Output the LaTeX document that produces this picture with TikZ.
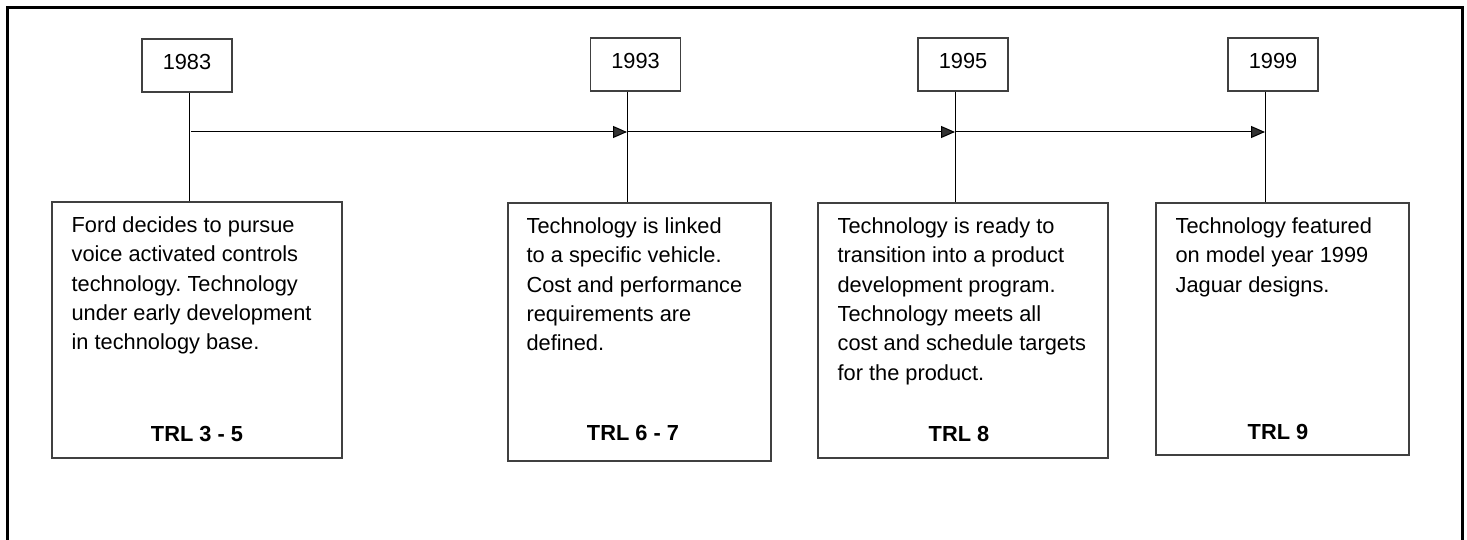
\documentclass[tikz,border=0pt]{standalone}
\usepackage{fontspec}
\setmainfont{Liberation Sans}
\usetikzlibrary{arrows.meta,positioning}
\frenchspacing

\tikzset{
  yearbox/.style={draw=black!75, line width=1.2pt, minimum width=90pt,
    minimum height=53pt, text depth=7pt, inner sep=0pt,
    font=\fontsize{21.8}{24}\selectfont},
  descbox/.style={draw=black!75, line width=1.2pt, inner sep=0pt},
  desctext/.style={anchor=north west, align=left, inner sep=0pt,
    font=\fontsize{21.8}{29.4}\selectfont},
  trllabel/.style={anchor=base, inner sep=0pt,
    font=\fontsize{21.8}{24}\selectfont\bfseries},
  stem/.style={line width=1pt},
  timeline/.style={line width=1pt,
    -{Triangle[length=14pt,width=12pt,fill=black!80]}},
  frame/.style={line width=2.6pt}
}

\begin{document}
\begin{tikzpicture}[x=1pt,y=-1pt]
  \useasboundingbox (0,0) rectangle (1467,540);
  \draw[frame] (7.7,540) -- (7.7,7.7) -- (1462.3,7.7) -- (1462.3,540);

  % years
  \node[yearbox] (y1) at (187,65.5) {1983};
  \node[yearbox] (y2) at (635.5,64.5) {1993};
  \node[yearbox] (y3) at (963,64.5) {1995};
  \node[yearbox] (y4) at (1273,64.5) {1999};

  % description boxes
  \node[descbox, minimum width=290pt, minimum height=256pt] (d1) at (197,330) {};
  \node[descbox, minimum width=263pt, minimum height=258pt] (d2) at (639.5,332) {};
  \node[descbox, minimum width=290pt, minimum height=255pt] (d3) at (963,330.5) {};
  \node[descbox, minimum width=253pt, minimum height=252pt] (d4) at (1282.5,329) {};

  \node[desctext] (t1) at ([xshift=20pt,yshift=-15pt]d1.north west)
    {Ford decides to pursue\\voice activated controls\\technology. Technology\\under early development\\in technology base.};
  \node[desctext] (t2) at ([xshift=19pt,yshift=-15pt]d2.north west)
    {Technology is linked\\to a specific vehicle.\\Cost and performance\\requirements are\\defined.};
  \node[desctext] (t3) at ([xshift=20pt,yshift=-15pt]d3.north west)
    {Technology is ready to\\transition into a product\\development program.\\Technology meets all\\cost and schedule targets\\for the product.};
  \node[desctext] (t4) at ([xshift=20pt,yshift=-15pt]d4.north west)
    {Technology featured\\on model year 1999\\Jaguar designs.};

  \node[trllabel] (r1) at ([yshift=17pt]d1.south) {TRL 3 - 5};
  \node[trllabel] (r2) at ([xshift=-6.5pt,yshift=21pt]d2.south) {TRL 6 - 7};
  \node[trllabel] (r3) at ([xshift=-4pt,yshift=17.3pt]d3.south) {TRL 8};
  \node[trllabel] (r4) at ([xshift=-4.5pt,yshift=16pt]d4.south) {TRL 9};

  % timeline
  \coordinate (s0) at (191,132);
  \coordinate (s1) at (189,132);
  \coordinate (s2) at (627,132);
  \coordinate (s3) at (955,132);
  \coordinate (s4) at (1265,132);
  \draw[stem] (s1 |- y1.south) -- (s1 |- d1.north);
  \draw[stem] (s2 |- y2.south) -- (s2 |- d2.north);
  \draw[stem] (s3 |- y3.south) -- (s3 |- d3.north);
  \draw[stem] (s4 |- y4.south) -- (s4 |- d4.north);
  \draw[timeline] (s0) -- (s2);
  \draw[timeline] (s2) -- (s3);
  \draw[timeline] (s3) -- (s4);
\end{tikzpicture}
\end{document}
